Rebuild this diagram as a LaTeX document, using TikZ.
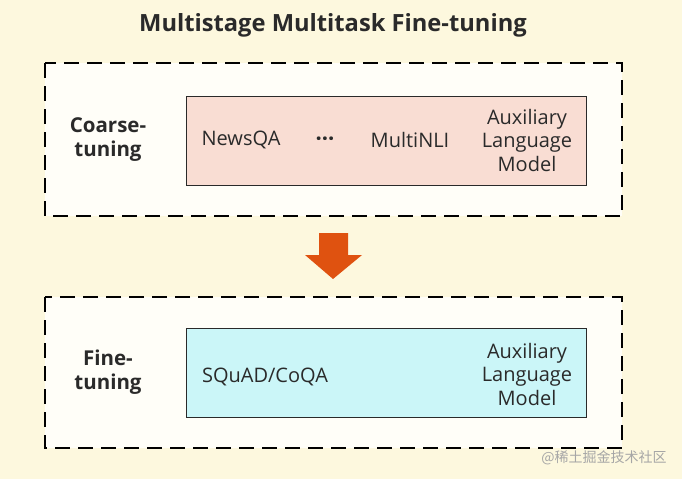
\documentclass[tikz,border=0pt]{standalone}
\usepackage{fontspec}
\setmainfont{Open Sans}
\newfontfamily\cjk{Noto Sans CJK SC}
\definecolor{bgc}{HTML}{FDF8DE}
\definecolor{panel}{HTML}{FFFEF8}
\definecolor{pinkc}{HTML}{F9DDD3}
\definecolor{cyanc}{HTML}{CBF6F8}
\definecolor{arrowc}{HTML}{DF5210}
\definecolor{txt}{HTML}{2A2A2A}
\begin{document}
\begin{tikzpicture}[x=1pt,y=-1pt,
  stage/.style={draw=black,line width=2pt,dash pattern=on 15pt off 8pt,fill=panel},
  inner/.style={draw=txt,line width=1.2pt},
  lbl/.style={font=\fontsize{20.5}{24}\selectfont\bfseries,text=txt,align=center},
  item/.style={font=\fontsize{20}{23.5}\selectfont,text=txt,align=center}]
\fill[bgc] (0,0) rectangle (682,479);
\useasboundingbox (0,0) rectangle (682,479);
\node[font=\fontsize{23.7}{28}\selectfont\bfseries,text=txt] (title) at (333,25) {Multistage Multitask Fine-tuning};
% top stage
\draw[stage] (45,63) rectangle (622,216);
\node[inner,fill=pinkc,minimum width=400pt,minimum height=89pt,anchor=north west] (coarsebox) at (186,96) {};
\node[lbl] (coarse) at (108,140) {Coarse-\\tuning};
\node[item] (newsqa) at (241,140) {NewsQA};
\node[item,font=\fontsize{22}{24}\selectfont\bfseries,anchor=base] (dots) at (325,146) {···};
\node[item] (multinli) at (410,140) {MultiNLI};
\node[item] (aux1) at (527,140) {Auxiliary\\Language\\Model};
% arrow
\fill[arrowc] (319,233) -- (348,233) -- (348,255) -- (362,255) -- (333,279) -- (305,255) -- (319,255) -- cycle;
\coordinate (arrowtop) at (333,233);
% bottom stage
\draw[stage] (45,297) rectangle (622,448);
\node[inner,fill=cyanc,minimum width=400pt,minimum height=89pt,anchor=north west] (finebox) at (186,328) {};
\node[lbl] (fine) at (108,372) {Fine-\\tuning};
\node[item] (squad) at (265,377) {SQuAD/CoQA};
\node[item] (aux2) at (527,374) {Auxiliary\\Language\\Model};
\node[font=\cjk\fontsize{14}{16}\selectfont,text=gray!70] (wm) at (604,458) {@稀土掘金技术社区};
\end{tikzpicture}
\end{document}
